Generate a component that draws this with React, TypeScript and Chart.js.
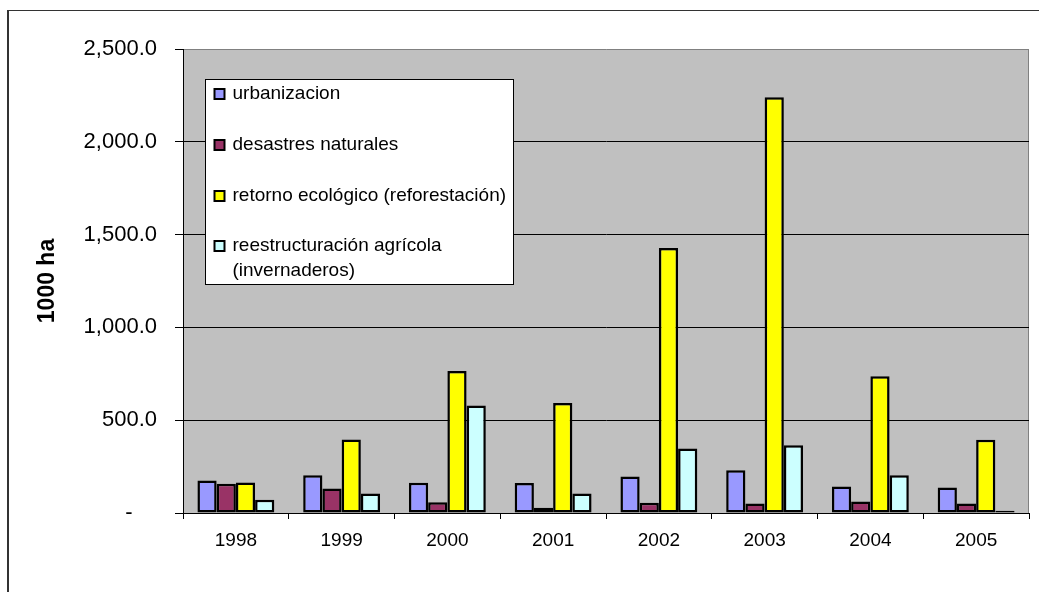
import React, { useEffect, useRef } from 'react';
import { Chart, registerables } from 'chart.js';

Chart.register(...registerables);

// ---- data ----
const years = ['1998', '1999', '2000', '2001', '2002', '2003', '2004', '2005'];
const seriesNames = [
  'urbanizacion',
  'desastres naturales',
  'retorno ecológico (reforestación)',
  'reestructuración agrícola\n(invernaderos)',
];
const urbanizacion = [175, 203, 163, 161, 197, 230, 143, 138];
const desastresNaturales = [158, 132, 58, 28, 55, 51, 62, 51];
const retornoEcologico = [165, 396, 765, 592, 1428, 2240, 737, 394];
const reestructuracionAgricola = [71, 105, 579, 105, 347, 365, 203, 12];
const seriesColors = ['#9999FF', '#993366', '#FFFF00', '#CCFFFF'];
const yTickValues = [0, 500, 1000, 1500, 2000, 2500];
const yTitle = '1000 ha';

const FONT = "'Liberation Sans', Arial, Helvetica, sans-serif";

const plotBackground = {
  id: 'plotBackground',
  beforeDraw(chart: any) {
    const { ctx, chartArea } = chart;
    const { left, top, right, bottom } = chartArea;
    ctx.save();
    ctx.fillStyle = '#C0C0C0';
    ctx.fillRect(left, top, right - left, bottom - top);
    ctx.strokeStyle = '#808080';
    ctx.lineWidth = 1;
    ctx.beginPath();
    ctx.moveTo(Math.round(right) - 0.5, top);
    ctx.lineTo(Math.round(right) - 0.5, bottom);
    ctx.stroke();
    ctx.restore();
  },
};

const boxLegend = {
  id: 'boxLegend',
  afterDraw(chart: any) {
    const { ctx, chartArea } = chart;
    const bx = Math.round(chartArea.left + 22) + 0.5;
    const by = Math.round(chartArea.top + 30) + 0.5;
    const bw = 308;
    const bh = 205;
    ctx.save();
    ctx.fillStyle = '#FFFFFF';
    ctx.fillRect(bx, by, bw, bh);
    ctx.strokeStyle = '#000000';
    ctx.lineWidth = 1;
    ctx.strokeRect(bx, by, bw, bh);
    ctx.font = `19px ${FONT}`;
    ctx.textBaseline = 'middle';
    ctx.textAlign = 'left';
    const rowY = [14, 65, 116, 166];
    chart.data.datasets.forEach((ds: any, i: number) => {
      const cy = Math.round(by + rowY[i]);
      const sw = 10;
      ctx.fillStyle = ds.backgroundColor;
      ctx.fillRect(bx + 9, cy - sw / 2, sw, sw);
      ctx.strokeStyle = '#000';
      ctx.lineWidth = 2;
      ctx.strokeRect(bx + 9, cy - sw / 2, sw, sw);
      ctx.fillStyle = '#000';
      const lines = String(ds.label).split('\n');
      lines.forEach((ln: string, k: number) => {
        ctx.fillText(ln, bx + 27, cy + k * 25);
      });
    });
    ctx.restore();
  },
};

export default function App() {
  const canvasRef = useRef<HTMLCanvasElement | null>(null);

  useEffect(() => {
    const canvas = canvasRef.current;
    if (!canvas) return;
    Chart.defaults.font.family = FONT;
    Chart.defaults.color = '#000';
    const values = [urbanizacion, desastresNaturales, retornoEcologico, reestructuracionAgricola];
    const chart = new Chart(canvas, {
      type: 'bar',
      data: {
        labels: years,
        datasets: values.map((v, i) => ({
          label: seriesNames[i],
          data: v,
          backgroundColor: seriesColors[i],
          borderColor: '#000000',
          borderWidth: 2.5,
          borderSkipped: false,
          barPercentage: 1,
          categoryPercentage: 0.727,
        })),
      },
      options: {
        responsive: false,
        animation: false,
        devicePixelRatio: 1,
        layout: { padding: { top: 49, right: 10, bottom: 0, left: 0 } },
        plugins: {
          legend: { display: false },
          tooltip: { enabled: false },
        },
        scales: {
          x: {
            ticks: { color: '#000', font: { size: 19 }, padding: 10 },
            grid: {
              drawOnChartArea: false,
              drawTicks: true,
              tickLength: 6,
              color: '#000',
              offset: true,
            },
            border: { color: '#000', width: 1 },
            afterFit: (s: any) => {
              s.height = 79;
            },
          },
          y: {
            min: 0,
            max: 2500,
            afterBuildTicks: (s: any) => {
              s.ticks = yTickValues.map((v) => ({ value: v }));
            },
            ticks: {
              color: '#000',
              font: { size: 22 },
              padding: 18,
              callback: (v: any) =>
                Number(v) === 0
                  ? '-    '
                  : Number(v).toLocaleString('en-US', {
                      minimumFractionDigits: 1,
                      maximumFractionDigits: 1,
                    }),
            },
            grid: {
              color: (c: any) => (c.tick && c.tick.value === 2500 ? '#808080' : '#000'),
              tickColor: '#000',
              lineWidth: 1,
              tickLength: 8,
              drawTicks: true,
            },
            border: { color: '#000', width: 1 },
            title: {
              display: true,
              text: yTitle,
              color: '#000',
              font: { size: 23, weight: 'bold' },
              padding: { top: 34, bottom: 0 },
            },
            afterFit: (s: any) => {
              s.width = 183;
            },
          },
        },
      },
      plugins: [plotBackground, boxLegend],
    });
    return () => chart.destroy();
  }, []);

  return (
    <div
      style={{
        position: 'fixed',
        left: 0,
        top: 0,
        width: 1039,
        height: 592,
        overflow: 'hidden',
        background: '#fff',
      }}
    >
      <div
        style={{
          position: 'absolute',
          left: 7,
          top: 10,
          width: 1200,
          height: 800,
          borderLeft: '2px solid #333',
          borderTop: '1.5px solid #333',
        }}
      />
      <canvas
        ref={canvasRef}
        width={1039}
        height={592}
        style={{ position: 'absolute', left: 0, top: 0, display: 'block' }}
      />
    </div>
  );
}
